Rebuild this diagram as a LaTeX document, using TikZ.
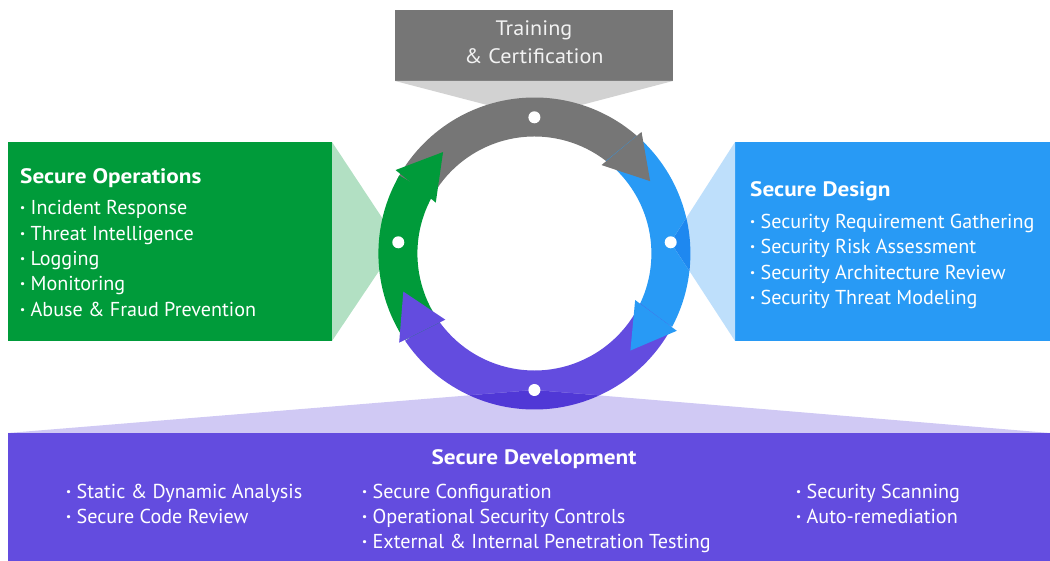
\documentclass[tikz,border=0pt]{standalone}
\usepackage{fontspec}
\setmainfont{PT Sans}
\newfontfamily\titlefont[FakeStretch=1.11]{PT Sans Bold}
\newfontfamily\topfont[FakeStretch=1.06]{PT Sans}
\usetikzlibrary{calc}
\definecolor{grayC}{HTML}{767676}
\definecolor{grayL}{HTML}{D2D2D2}
\definecolor{greenC}{HTML}{009B3A}
\definecolor{greenL}{HTML}{B2E0C3}
\definecolor{blueC}{HTML}{289AF5}
\definecolor{blueL}{HTML}{BEDFFB}
\definecolor{blueD}{HTML}{1E88F0}
\definecolor{purpleC}{HTML}{634CDF}
\definecolor{purpleL}{HTML}{D0C9F4}
\definecolor{purpleD}{HTML}{5038D6}
\definecolor{textW}{HTML}{F2F2F2}
\newcommand{\bul}{{\bfseries ·}\ }
\tikzset{
  ttl/.style={inner sep=0pt, anchor=base west, text=white, font=\titlefont\fontsize{21}{25}\selectfont},
  itm/.style={inner sep=0pt, anchor=base west, text=white, font=\fontsize{20.2}{24}\selectfont},
  toptxt/.style={inner sep=0pt, anchor=base, text=textW, font=\topfont\fontsize{21}{25}\selectfont},
  dot/.style={circle, fill=white, inner sep=0pt, minimum size=12bp}
}
\begin{document}
\begin{tikzpicture}[x=1bp,y=1bp]
\useasboundingbox (0,0) rectangle (1050,561);
\coordinate (C) at (534.4,307.5);
% boxes
\fill[grayC] (395,480) rectangle (673,551);
\fill[greenC] (8,220) rectangle (332,419);
\fill[blueC] (735,220) rectangle (1050,419);
\fill[purpleC] (8,0) rectangle (1050,128);
% dot positions
\coordinate (dT) at (534.4,443.7);
\coordinate (dB) at (534.4,171);
\coordinate (dL) at (398.3,318.7);
\coordinate (dR) at (670.7,318.7);
% fans under the ring
\fill[grayL] (395,480) -- (673,480) -- (dT) -- cycle;
\fill[greenL] (332,419) -- (332,220) -- (dL) -- cycle;
% ring bands
\fill[grayC] ([shift={(152:156)}]C) arc[start angle=152,end angle=49,radius=156]
  -- ([shift={(49:117)}]C) arc[start angle=49,end angle=152,radius=117] -- cycle;
\fill[blueC] ([shift={(49:156)}]C) arc[start angle=49,end angle=-28,radius=156]
  -- ([shift={(-28:117)}]C) arc[start angle=-28,end angle=52.3,radius=117] -- cycle;
\fill[purpleC] ([shift={(-28.2:156)}]C) arc[start angle=-28.2,end angle=-146,radius=156]
  -- ([shift={(-146:117)}]C) arc[start angle=-146,end angle=-25.3,radius=117] -- cycle;
\fill[greenC] ([shift={(213.7:156)}]C) arc[start angle=213.7,end angle=150,radius=156]
  -- ([shift={(150:117)}]C) arc[start angle=150,end angle=216.1,radius=117] -- cycle;
% arrow heads
\fill[grayC] ([shift={(52.8:111)}]C) -- ([shift={(32:136.5)}]C) -- ([shift={(48.6:162)}]C) -- cycle;
\fill[blueC] ([shift={(-24.8:111)}]C) -- ([shift={(-45.3:136.5)}]C) -- ([shift={(-28.5:162)}]C) -- cycle;
\fill[purpleC] ([shift={(216.6:111)}]C) -- ([shift={(196.2:136.5)}]C) -- ([shift={(213.4:162)}]C) -- cycle;
\fill[greenC] ([shift={(152.7:111)}]C) -- ([shift={(132:136.5)}]C) -- ([shift={(149:162)}]C) -- cycle;
% fans over the ring
\fill[blueL] (735,419) -- (735,220) -- (dR) -- cycle;
\fill[purpleL] (8,128) -- (1050,128) -- (dB) -- cycle;
\begin{scope}
  \clip (735,419) -- (735,220) -- (dR) -- cycle;
  \fill[blueD, even odd rule] (C) circle[radius=156] (C) circle[radius=117];
\end{scope}
\begin{scope}
  \clip (8,128) -- (1050,128) -- (dB) -- cycle;
  \fill[purpleD, even odd rule] (C) circle[radius=156] (C) circle[radius=117];
\end{scope}
% dots
\node[dot] (nT) at (dT) {};
\node[dot] (nB) at (dB) {};
\node[dot] (nL) at (dL) {};
\node[dot] (nR) at (dR) {};
% top text
\node[toptxt] (t1) at (534,525) {Training};
\node[toptxt] (t2) at (534,497.7) {\& Certification};
% left text
\node[ttl] (l0) at (20,377.7) {Secure Operations};
\node[itm] (l1) at (20,346.3) {\bul Incident Response};
\node[itm] (l2) at (20,320.9) {\bul Threat Intelligence};
\node[itm] (l3) at (20,295.5) {\bul Logging};
\node[itm] (l4) at (20,270.1) {\bul Monitoring};
\node[itm] (l5) at (20,244.7) {\bul Abuse \& Fraud Prevention};
% right text
\node[ttl] (r0) at (750,364.3) {Secure Design};
\node[itm] (r1) at (750,332.7) {\bul Security Requirement Gathering};
\node[itm] (r2) at (750,307.3) {\bul Security Risk Assessment};
\node[itm] (r3) at (750,281.9) {\bul Security Architecture Review};
\node[itm] (r4) at (750,256.5) {\bul Security Threat Modeling};
% bottom text
\node[ttl, anchor=base] (b0) at (534,96) {Secure Development};
\node[itm] (b11) at (66,62.7) {\bul Static \& Dynamic Analysis};
\node[itm] (b12) at (66,37.5) {\bul Secure Code Review};
\node[itm] (b21) at (362,62.7) {\bul Secure Configuration};
\node[itm] (b22) at (362,37.5) {\bul Operational Security Controls};
\node[itm] (b23) at (362,12.3) {\bul External \& Internal Penetration Testing};
\node[itm] (b31) at (796,62.7) {\bul Security Scanning};
\node[itm] (b32) at (796,37.5) {\bul Auto-remediation};
\end{tikzpicture}
\end{document}
